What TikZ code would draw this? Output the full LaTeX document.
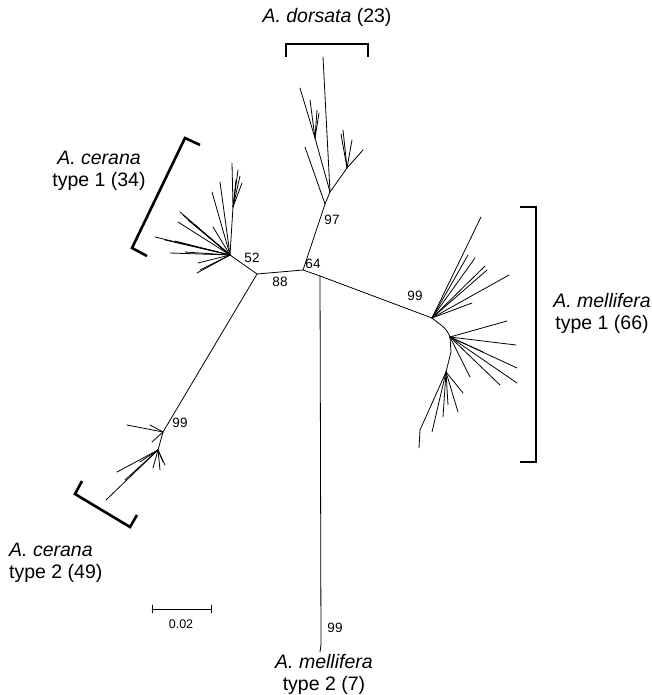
\documentclass[tikz,border=0pt]{standalone}
\usepackage{fontspec}
\setmainfont{Liberation Sans}

\begin{document}
\begin{tikzpicture}[x=1pt,y=-1pt,
  branch/.style={line width=0.8pt,line cap=round,line join=round},
  clade/.style={line width=2.6pt},
  boot/.style={font=\fontsize{13.5}{13.5}\selectfont,inner sep=1pt},
  taxon/.style={font=\fontsize{19.5}{22}\selectfont,align=center,inner sep=0pt}]
  \useasboundingbox (0,0) rectangle (652,695);

  % backbone
  \coordinate (n52) at (230,255);
  \coordinate (n88) at (257,274);
  \coordinate (n64) at (303,270);
  \coordinate (nmid) at (320,276);
  \coordinate (n97) at (325,204);
  \coordinate (nd1) at (330,192);
  \coordinate (nd2) at (315,138);
  \coordinate (nd3) at (347,168);
  \coordinate (n99m) at (432,318);
  \coordinate (nm2) at (450,337);
  \coordinate (nm3) at (451,352);
  \coordinate (nm4) at (446,372);
  \coordinate (n99c) at (163,432);
  \coordinate (nc2) at (158,450);
  \coordinate (nc3) at (233,207);
  \coordinate (nm2end) at (321,645);

  \draw[branch] (n52) -- (n88) -- (n64) -- (nmid) -- (n99m);
  \draw[branch] (n64) -- (n97) -- (nd1);
  \draw[branch] (nmid) -- (nm2end);
  \draw[branch] (n88) -- (n99c) -- (nc2);
  \draw[branch] (n99m) to[out=-40,in=110] (nm2) -- (nm3) -- (nm4);

  % A. dorsata
  \draw[branch] (n97) -- (305,147);
  \draw[branch] (nd1) -- (323,57);
  \draw[branch] (nd1) -- (nd2) -- (300,88);
  \foreach \p in {(310,100),(317,110),(319,113)}
    \draw[branch] (nd2) -- \p;
  \draw[branch] (nd1) -- (nd3) -- (363,150);
  \foreach \p in {(343,130),(341,134),(352,140)}
    \draw[branch] (nd3) -- \p;

  % A. cerana type 1
  \draw[branch] (n52) -- (nc3);
  \foreach \p in {(232,163),(240,176),(238,170),(236,180),(242,183)}
    \draw[branch] (nc3) -- \p;
  \foreach \p in {(220,182),(212,192),(180,212),(183,215),(188,220),(195,225),
                  (155,237),(165,240),(175,241),(170,253),(185,252),(213,227),
                  (197,273),(198,263),(200,270),(178,222)}
    \draw[branch] (n52) -- \p;

  % A. mellifera type 1
  \foreach \p in {(481,217),(468,255),(475,258),(487,270),(509,275),(472,303),(485,266)}
    \draw[branch] (n99m) -- \p;
  \foreach \p in {(507,321),(516,345),(517,368),(517,383),(500,385),(483,352),(470,377)}
    \draw[branch] (nm2) -- \p;
  \foreach \p in {(458,412),(443,417),(432,432),(463,393),(448,405)}
    \draw[branch] (nm4) -- \p;
  \draw[branch] (nm4) -- (420,430) -- (419,448);

  % A. cerana type 2
  \foreach \p in {(127,425),(150,425),(152,442)}
    \draw[branch] (n99c) -- \p;
  \draw[branch] (nc2) -- (106,500);
  \foreach \p in {(117,472),(140,462),(125,480)}
    \draw[branch] (nc2) -- \p;
  \foreach \p in {(165,465),(153,468),(160,470),(163,462)}
    \draw[branch] (nc2) -- \p;

  % A. mellifera type 2 tip
  \draw[branch] (nm2end) -- (320,652);

  % bootstrap values
  \node[boot] (b52) at (252,258) {52};
  \node[boot] (b88) at (280,282) {88};
  \node[boot] (b64) at (313,264) {64};
  \node[boot] (b97) at (332,220) {97};
  \node[boot] (b99m) at (415,296) {99};
  \node[boot] (b99c) at (180,423) {99};
  \node[boot] (b99t) at (335,628) {99};

  % clade brackets
  \draw[clade] (286,57) -- (286,44) -- (368,44) -- (368,57);
  \draw[clade] (200,145) -- (185,138) -- (132,248) -- (147,256);
  \draw[clade] (520,207) -- (536,207) -- (536,462) -- (520,462);
  \draw[clade] (82,481) -- (75,494) -- (130,527) -- (137,515);

  % labels
  \node[taxon] (tdor) at (327,17) {\textit{A. dorsata} (23)};
  \node[taxon] (tcer1) at (99,171) {\textit{A. cerana}\\type 1 (34)};
  \node[taxon,anchor=east] (tmel1) at (651,313) {\textit{A. mellifera}\\type 1 (66)};
  \node[taxon,anchor=west,align=left] (tcer2) at (9,563) {\textit{A. cerana}\\type 2 (49)};
  \node[taxon] (tmel2) at (324,674) {\textit{A. mellifera}\\type 2 (7)};

  % scale bar
  \draw[branch] (152,605) -- (152,613) (152,609) -- (211,609) (211,605) -- (211,613);
  \node[boot,font=\fontsize{12.5}{12.5}\selectfont] (scale) at (181,624) {0.02};
\end{tikzpicture}
\end{document}
